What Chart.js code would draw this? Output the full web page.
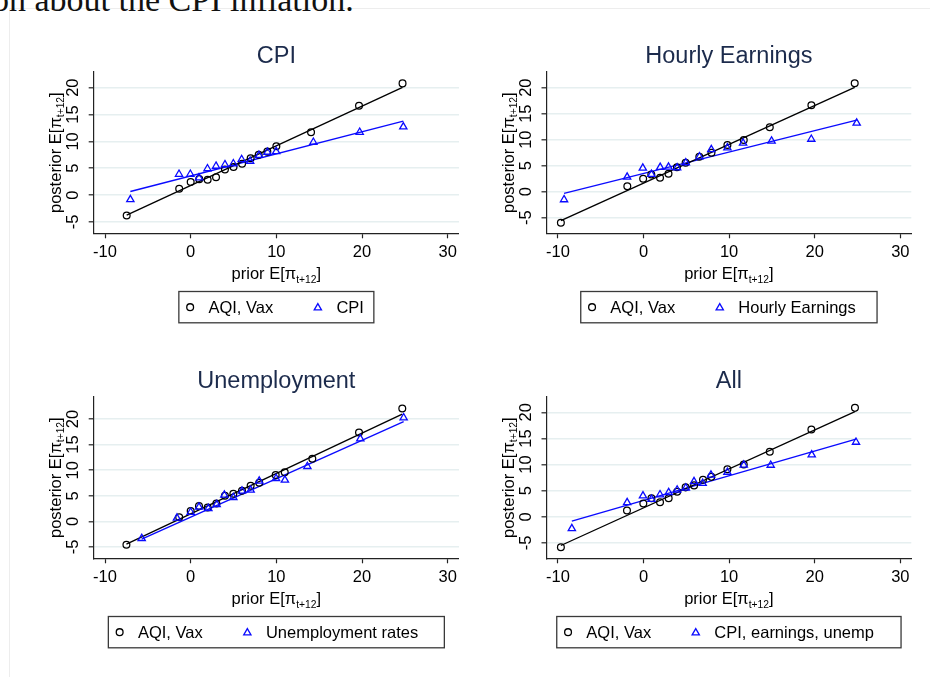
<!DOCTYPE html>
<html>
<head>
<meta charset="utf-8">
<script src="https://cdn.jsdelivr.net/npm/chart.js@4.4.1/dist/chart.umd.min.js"></script>
<style>
  html, body { margin: 0; padding: 0; background: #fff; width: 930px; height: 677px; overflow: hidden; }
  #page { position: relative; width: 930px; height: 677px; }
  .frame { position: absolute; left: 9px; top: 8px; right: 0; bottom: 0;
           border-top: 1px solid #ededed; border-left: 1px solid #ededed; }
  .lead { position: absolute; left: -8px; top: -17px; font-family: "Liberation Serif", "DejaVu Serif", serif;
          font-size: 34px; line-height: 34px; white-space: nowrap; color: #111; }
  canvas { position: absolute; left: 0; top: 0; }
</style>
</head>
<body>
<div id="page">
  <div class="frame"></div>
  <div class="lead">on about the CPI inflation.</div>
  <canvas id="cpi" width="930" height="677"></canvas>
  <canvas id="earn" width="930" height="677"></canvas>
  <canvas id="unemp" width="930" height="677"></canvas>
  <canvas id="all" width="930" height="677"></canvas>
</div>
<script>
// Axis ticks shared by all four panels
const xTicks = [-10, 0, 10, 20, 30];
const yTicks = [-5, 0, 5, 10, 15, 20];

// Panel titles and legend labels
const panelTitles = ['CPI', 'Hourly Earnings', 'Unemployment', 'All'];
const baseLabel = 'AQI, Vax';
const infoLabels = ['CPI', 'Hourly Earnings', 'Unemployment rates', 'CPI, earnings, unemp'];

// CPI panel: binned prior vs posterior expectations
const aqiCpiX = [-7.47, -1.34, 0, 1.0, 1.98, 2.96, 4.0, 5.0, 6.0, 7.0, 7.94, 8.95, 10.0, 14.05, 19.65, 24.73];
const aqiCpiY = [-3.78, 1.2, 2.45, 2.98, 2.88, 3.35, 4.78, 5.24, 5.86, 6.86, 7.53, 8.1, 9.09, 11.72, 16.63, 20.8];
const cpiX = [-7.04, -1.36, -0.04, 0.97, 1.96, 2.96, 4.0, 4.98, 5.95, 6.94, 7.97, 8.96, 9.98, 14.32, 19.73, 24.82];
const cpiY = [-0.81, 3.9, 3.9, 3.22, 4.93, 5.4, 5.68, 5.86, 6.64, 6.33, 7.42, 8.0, 8.12, 9.86, 11.72, 12.72];
const fitAqiCpiX = [-7.47, 24.73];
const fitAqiCpiY = [-3.7, 20.05];
const fitCpiX = [-7.04, 24.82];
const fitCpiY = [0.68, 13.77];

// Hourly earnings panel
const aqiEarnX = [-9.65, -1.89, -0.04, 0.91, 1.93, 2.92, 3.91, 4.92, 6.52, 7.94, 9.8, 11.71, 14.75, 19.61, 24.67];
const aqiEarnY = [-5.96, 1.06, 2.47, 3.3, 2.69, 3.43, 4.71, 5.55, 6.73, 7.5, 8.97, 9.94, 12.37, 16.6, 20.83];
const earnX = [-9.28, -1.91, -0.08, 0.93, 1.95, 2.92, 3.93, 4.94, 6.54, 7.92, 9.8, 11.63, 14.96, 19.6, 24.9];
const earnY = [-1.53, 2.82, 4.55, 3.33, 4.68, 4.74, 4.62, 5.58, 6.73, 8.11, 8.43, 9.36, 9.75, 10.1, 13.2];
const fitAqiEarnX = [-9.65, 24.67];
const fitAqiEarnY = [-5.58, 20.06];
const fitEarnX = [-9.28, 24.9];
const fitEarnY = [-0.32, 13.75];

// Unemployment panel
const aqiUnempX = [-7.5, -1.34, 0, 0.97, 1.98, 3.0, 4.0, 4.98, 5.99, 7.0, 8.0, 9.92, 10.98, 14.2, 19.65, 24.7];
const aqiUnempY = [-4.56, 0.8, 2.02, 2.99, 2.7, 3.48, 5.0, 5.4, 5.99, 6.97, 7.55, 9.05, 9.6, 12.24, 17.38, 22.07];
const unempX = [-5.72, -1.6, 0.0, 0.97, 2.06, 3.03, 3.93, 4.98, 5.99, 7.0, 8.0, 9.96, 11.0, 13.62, 19.8, 24.86];
const unempY = [-3.32, 0.65, 1.8, 2.8, 2.54, 3.32, 5.14, 4.69, 5.92, 6.12, 7.88, 8.4, 8.07, 10.74, 16.15, 20.25];
const fitAqiUnempX = [-7.5, 24.7];
const fitAqiUnempY = [-4.43, 20.96];
const fitUnempX = [-5.72, 24.86];
const fitUnempY = [-3.45, 19.47];

// Combined panel
const aqiAllX = [-9.65, -1.93, -0.02, 0.93, 1.93, 2.94, 3.93, 4.92, 5.91, 6.95, 7.92, 9.8, 11.71, 14.75, 19.61, 24.7];
const aqiAllY = [-5.8, 1.2, 2.55, 3.57, 2.8, 3.57, 4.8, 5.64, 6.02, 7.1, 7.65, 9.1, 10.01, 12.44, 16.71, 20.85];
const allX = [-8.37, -1.91, -0.06, 0.93, 1.93, 2.94, 3.93, 4.94, 5.9, 6.91, 7.88, 9.8, 11.71, 14.86, 19.65, 24.82];
const allY = [-2.23, 2.74, 4.02, 3.38, 4.24, 4.66, 5.15, 5.54, 6.76, 6.41, 8.0, 8.55, 9.92, 9.89, 11.86, 14.29];
const fitAqiAllX = [-9.65, 24.7];
const fitAqiAllY = [-5.48, 20.15];
const fitAllX = [-8.37, 24.82];
const fitAllY = [-0.8, 14.86];

// ---- styling ----
const FONT = '"Liberation Sans", Arial, Helvetica, sans-serif';
const BLACK = '#000000';
const BLUE = '#0a0aff';
const GRID = '#e6eff0';
const AXIS = '#222222';
const TITLE_COLOR = '#1c2b4c';
const YW = 40;   // reserved width of the y scale box
const XH = 30;   // reserved height of the x scale box

// plot-area frame of each panel in page pixels, plus axis ranges
const frames = [
  { L: 93.7,  R: 459.0, T: 72,  B: 233.3, xMin: -11.32, xMax: 31.32, yMin: -7.1,  yMax: 22.92, legendW: 195 },
  { L: 546.5, R: 911.3, T: 72,  B: 233.3, xMin: -11.33, xMax: 31.28, yMin: -8.0,  yMax: 23.01, legendW: 296.3 },
  { L: 93.7,  R: 459.0, T: 397, B: 558.3, xMin: -11.32, xMax: 31.32, yMin: -7.21, yMax: 24.3,  legendW: 336 },
  { L: 546.5, R: 911.3, T: 397, B: 558.3, xMin: -11.33, xMax: 31.28, yMin: -7.93, yMax: 22.93, legendW: 344.3 }
];

const pts = (xs, ys) => xs.map((x, i) => ({ x: x, y: ys[i] }));

// Writes "<main>" + subscript "t+12" + "]" centred on cx with its baseline at y
function drawPiLabel(ctx, main, cx, y) {
  const mainFont = '16.5px ' + FONT;
  const subFont = '10.3px ' + FONT;
  ctx.font = mainFont;
  const w1 = ctx.measureText(main).width;
  const w3 = ctx.measureText(']').width;
  ctx.font = subFont;
  const w2 = ctx.measureText('t+12').width;
  const total = w1 + w2 + w3;
  let x = cx - total / 2;
  ctx.textAlign = 'left';
  ctx.textBaseline = 'alphabetic';
  ctx.font = mainFont;
  ctx.fillText(main, x, y);
  x += w1;
  ctx.font = subFont;
  ctx.fillText('t+12', x, y + 3.4);
  x += w2;
  ctx.font = mainFont;
  ctx.fillText(']', x, y);
}

function drawMarker(ctx, style, x, y, color) {
  ctx.save();
  ctx.strokeStyle = color;
  ctx.lineWidth = 1.3;
  ctx.beginPath();
  if (style === 'circle') {
    ctx.arc(x, y, 3.4, 0, Math.PI * 2);
  } else {
    const r = 4.2;
    ctx.moveTo(x, y - r);
    ctx.lineTo(x + Math.sin(Math.PI * 2 / 3) * r, y + r / 2);
    ctx.lineTo(x - Math.sin(Math.PI * 2 / 3) * r, y + r / 2);
    ctx.closePath();
  }
  ctx.stroke();
  ctx.restore();
}

// Title, axis titles and the boxed legend of one panel
const panelDecor = {
  id: 'panelDecor',
  afterDraw(chart, args, opts) {
    const ctx = chart.ctx;
    const a = chart.chartArea;
    const cx = (a.left + a.right) / 2;
    const cy = (a.top + a.bottom) / 2;
    ctx.save();
    ctx.fillStyle = TITLE_COLOR;
    ctx.font = '23.5px ' + FONT;
    ctx.textAlign = 'center';
    ctx.textBaseline = 'alphabetic';
    ctx.fillText(opts.title, cx, a.top - 8.7);

    ctx.fillStyle = '#000';
    drawPiLabel(ctx, 'prior E[\u03c0', cx, a.bottom + 46);

    ctx.save();
    ctx.translate(a.left - 32.7, cy);
    ctx.rotate(-Math.PI / 2);
    drawPiLabel(ctx, 'posterior E[\u03c0', 0, 0);
    ctx.restore();

    // legend box
    const lw = opts.legendW;
    const lx = cx - lw / 2;
    const ly = a.bottom + 58.2;
    const lh = 31.3;
    ctx.strokeStyle = '#3a3a3a';
    ctx.lineWidth = 1.3;
    ctx.strokeRect(lx, ly, lw, lh);
    const my = ly + lh / 2;
    drawMarker(ctx, 'circle', lx + 11.3, my, BLACK);
    drawMarker(ctx, 'triangle', lx + 139, my + 0.6, BLUE);
    ctx.fillStyle = '#000';
    ctx.font = '16.5px ' + FONT;
    ctx.textAlign = 'left';
    ctx.textBaseline = 'alphabetic';
    ctx.fillText(opts.labelA, lx + 29.6, my + 5.9);
    ctx.fillText(opts.labelB, lx + 157.6, my + 5.9);
    ctx.restore();
  }
};

function makePanel(id, idx, ax, ay, bx, by, fax, fay, fbx, fby) {
  const f = frames[idx];
  return new Chart(document.getElementById(id), {
    type: 'scatter',
    data: {
      datasets: [
        { label: baseLabel, data: pts(ax, ay), pointStyle: 'circle', pointRadius: 3.4,
          pointBorderColor: BLACK, pointBackgroundColor: 'rgba(0,0,0,0)', pointBorderWidth: 1.25,
          showLine: false, order: 1 },
        { label: infoLabels[idx], data: pts(bx, by), pointStyle: 'triangle', pointRadius: 4.2,
          pointBorderColor: BLUE, pointBackgroundColor: 'rgba(0,0,0,0)', pointBorderWidth: 1.3,
          showLine: false, order: 0 },
        { label: 'fit ' + baseLabel, data: pts(fax, fay), showLine: true, borderColor: BLACK,
          borderWidth: 1.35, pointRadius: 0, order: 2 },
        { label: 'fit ' + infoLabels[idx], data: pts(fbx, fby), showLine: true, borderColor: BLUE,
          borderWidth: 1.35, pointRadius: 0, order: 3 }
      ]
    },
    options: {
      responsive: false,
      animation: false,
      events: [],
      devicePixelRatio: 1,
      layout: { padding: { left: f.L - YW, top: f.T, right: 930 - f.R, bottom: 677 - f.B - XH } },
      plugins: {
        legend: { display: false },
        title: { display: false },
        tooltip: { enabled: false },
        panelDecor: { title: panelTitles[idx], labelA: baseLabel, labelB: infoLabels[idx], legendW: f.legendW }
      },
      scales: {
        x: {
          type: 'linear', min: f.xMin, max: f.xMax,
          afterBuildTicks: s => { s.ticks = xTicks.map(v => ({ value: v })); },
          afterFit: s => { s.height = XH; },
          grid: { drawOnChartArea: false, drawTicks: true, tickLength: 5, tickColor: AXIS, tickWidth: 1.2 },
          border: { color: AXIS, width: 1.2 },
          ticks: { font: { family: FONT, size: 16.5 }, color: '#000', padding: 4, maxRotation: 0, autoSkip: false }
        },
        y: {
          type: 'linear', min: f.yMin, max: f.yMax,
          afterBuildTicks: s => { s.ticks = yTicks.map(v => ({ value: v })); },
          afterFit: s => { s.width = YW; },
          grid: { color: GRID, lineWidth: 1.6, drawTicks: true, tickLength: 5, tickColor: AXIS, tickWidth: 1.2 },
          border: { color: AXIS, width: 1.2 },
          ticks: { font: { family: FONT, size: 16.5 }, color: '#000', padding: 6, minRotation: 90, maxRotation: 90,
                   crossAlign: 'center', autoSkip: false }
        }
      }
    },
    plugins: [panelDecor]
  });
}

makePanel('cpi', 0, aqiCpiX, aqiCpiY, cpiX, cpiY, fitAqiCpiX, fitAqiCpiY, fitCpiX, fitCpiY);
makePanel('earn', 1, aqiEarnX, aqiEarnY, earnX, earnY, fitAqiEarnX, fitAqiEarnY, fitEarnX, fitEarnY);
makePanel('unemp', 2, aqiUnempX, aqiUnempY, unempX, unempY, fitAqiUnempX, fitAqiUnempY, fitUnempX, fitUnempY);
makePanel('all', 3, aqiAllX, aqiAllY, allX, allY, fitAqiAllX, fitAqiAllY, fitAllX, fitAllY);
</script>
</body>
</html>
